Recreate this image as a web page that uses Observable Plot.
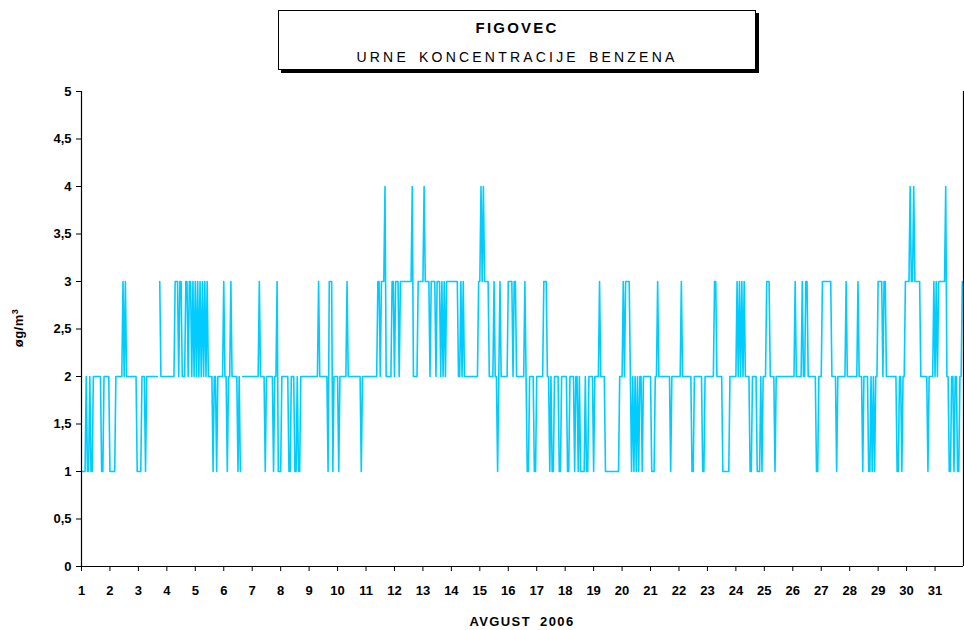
<!DOCTYPE html>
<html>
<head>
<meta charset="utf-8">
<script src="https://cdn.jsdelivr.net/npm/d3@7"></script>
<script src="https://cdn.jsdelivr.net/npm/@observablehq/plot@0.6"></script>
<style>
  body { margin: 0; background: #fff; font-family: "Liberation Sans", Arial, sans-serif; }
  #wrap { position: relative; width: 964px; height: 630px; }
  #title { position: absolute; left: 278px; top: 10px; width: 476px; height: 58px;
           border: 1px solid #000; box-shadow: 3px 3px 0 #000; background: #fff; text-align: center; }
  #t1 { position: absolute; left: 0; right: 0; top: 8px; font-size: 15px; font-weight: bold; letter-spacing: 2.2px; }
  #t2 { position: absolute; left: 0; right: 0; top: 38px; font-size: 14px; letter-spacing: 3.2px; word-spacing: 3px; }
  #xlab { position: absolute; left: 0; width: 1044px; top: 614px; text-align: center; font-size: 13px; font-weight: bold; letter-spacing: 1.4px; word-spacing: 4px; }
  #ylab { position: absolute; left: 18px; top: 328px; transform: translate(-50%, -50%) rotate(-90deg); font-size: 13px; font-weight: bold; white-space: nowrap; letter-spacing: 0.5px; }
  #ylab sup { font-size: 9px; }
  svg { position: absolute; left: 0; top: 0; }
</style>
</head>
<body>
<div id="wrap">
  <div id="chart"></div>
  <div id="title"><div id="t1">FIGOVEC</div><div id="t2">URNE KONCENTRACIJE BENZENA</div></div>
  <div id="xlab">AVGUST 2006</div>
  <div id="ylab">øg/m<sup>3</sup></div>
</div>
<script>
// Day labels on the x axis (August 2006)
const days = [1,2,3,4,5,6,7,8,9,10,11,12,13,14,15,16,17,18,19,20,21,22,23,24,25,26,27,28,29,30,31];
// Y-axis tick values (µg/m3)
const yTicks = [0,0.5,1,1.5,2,2.5,3,3.5,4,4.5,5];
// Hourly benzene concentrations: one string per day, 24 hourly values each ("." = missing)
const hourly = [
  "111121121122222221122222", // 1
  "111112222223232222222221", // 2
  "11122212222222222.322222", // 3
  "222222233323322233233232", // 4
  "323232323232222122122222", // 5
  "322122322222121.22222222", // 6
  "222222322221222222122311", // 7
  "122222211222112112222222", // 8
  "222222223222222213331222", // 9
  "212222223222222222221222", // 10
  "222222222233233342222233", // 11
  "233323333333333422223333", // 12
  "343333233332333232323333", // 13
  "333333223232222222222223", // 14
  "343433332222322123222222", // 15
  "333323322222223211222211", // 16
  "222222333221211222211222", // 17
  "221122221221211112112222", // 18
  "122223222211111111111122", // 19
  "232333321212121221222222", // 20
  "211122322222222221222222", // 21
  "223222222221122222221122", // 22
  "222222332222211111122222", // 23
  "232323232222112222111212", // 24
  "223332222122222222222222", // 25
  "223222223223322222221122", // 26
  "233333333222212222222322", // 27
  "222222232221222211212122", // 28
  "333323322222222211221223", // 29
  "333433433333222222122223", // 30
  "232333333422112212211223"  // 31
];

const points = hourly.flatMap((s, d) =>
  [...s].map((c, h) => ({ t: d * 24 + h, v: c === "." ? NaN : +c }))
);
const dayTicks = days.map((d, i) => i * 24);

const chart = Plot.plot({
  width: 964,
  height: 630,
  marginTop: 91,
  marginBottom: 64,
  marginLeft: 81,
  marginRight: 1,
  style: { fontFamily: "Liberation Sans, Arial, sans-serif", fontSize: "13px", fontWeight: "bold", color: "#000", background: "transparent", overflow: "visible" },
  x: { domain: [0, 744] },
  y: { domain: [0, 5] },
  marks: [
    Plot.line(points, { x: "t", y: "v", stroke: "#00ccff", strokeWidth: 1.6 }),
    Plot.ruleX([0], { stroke: "#000", strokeWidth: 1.2 }),
    Plot.ruleX([744], { stroke: "#000", strokeWidth: 1.2 }),
    Plot.ruleY([0], { stroke: "#000", strokeWidth: 1.2 }),
    Plot.axisX(dayTicks, { tickFormat: (t) => days[t / 24], tickSize: 5, tickPadding: 14, label: null, stroke: "#000", fontSize: 13 }),
    Plot.axisY(yTicks, { tickFormat: (d) => String(d).replace(".", ","), tickSize: 5, tickPadding: 5, label: null, stroke: "#000", fontSize: 13 })
  ]
});
document.getElementById("chart").appendChild(chart);
</script>
</body>
</html>
